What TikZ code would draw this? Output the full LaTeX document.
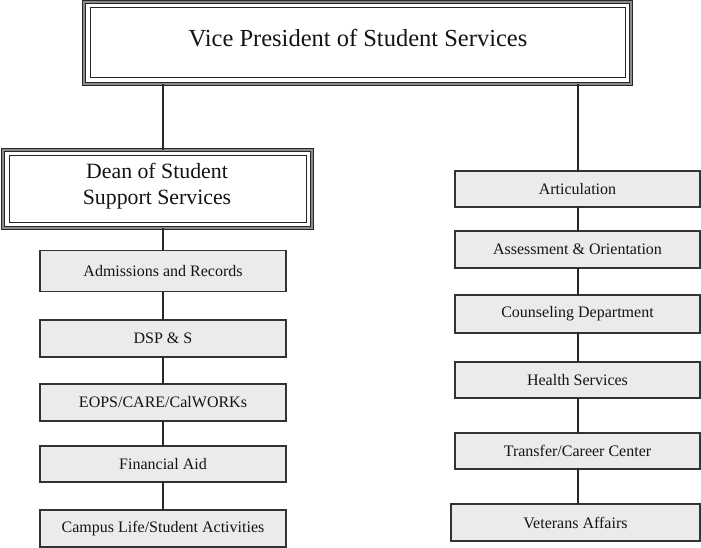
\documentclass[tikz,border=0pt]{standalone}
\usepackage{fontspec}
\setmainfont{Liberation Serif}
\begin{document}
\begin{tikzpicture}[x=1pt,y=-1pt,
  headbox/.style={draw=black!85, double=black!45, line width=1.2pt, double distance=1.2pt,
    fill=white, inner sep=0pt, outer sep=0pt, align=center, text=black!90},
  headtext/.style={inner sep=0pt, align=center, text=black!92},
  unitbox/.style={draw=black!80, line width=1.8pt, fill=black!8, inner sep=0pt, outer sep=0pt,
    font=\fontsize{16}{18}\selectfont, text=black!92},
  link/.style={draw=black!85, line width=2pt}
]
\useasboundingbox (0,0) rectangle (701,548);
% head boxes
\node[headbox, minimum width=547, minimum height=82] (vp) at (357.5,43) {};
\draw[black!85, line width=1pt] ([shift={(6,6)}]vp.north west) rectangle ([shift={(-6,-6)}]vp.south east);
\node[headtext, font=\fontsize{24.5}{26}\selectfont] (vpt) at (358,38) {Vice President of Student Services};
\node[headbox, minimum width=309, minimum height=78] (dean) at (157.5,189) {};
\draw[black!85, line width=1pt] ([shift={(6,6)}]dean.north west) rectangle ([shift={(-6,-6)}]dean.south east);
\node[headtext, font=\fontsize{21.8}{25.5}\selectfont] (deant) at (157,186) {Dean of Student\\Support Services};
% left column
\node[unitbox, minimum width=246, minimum height=41] (adm) at (163,271) {Admissions and Records};
\node[unitbox, minimum width=246, minimum height=37] (dsp) at (163,338.5) {DSP \& S};
\node[unitbox, minimum width=246, minimum height=37] (eops) at (163,402.5) {EOPS/CARE/CalWORKs};
\node[unitbox, minimum width=246, minimum height=36] (fin) at (163,464) {Financial Aid};
\node[unitbox, minimum width=246, minimum height=37] (camp) at (163,528.5) {Campus Life/Student Activities};
% right column
\node[unitbox, minimum width=245, minimum height=36] (art) at (577.5,189) {Articulation};
\node[unitbox, minimum width=245, minimum height=37] (ass) at (577.5,249.5) {Assessment \& Orientation};
\node[unitbox, minimum width=245, minimum height=38] (cou) at (577.5,314) {Counseling Department};
\node[unitbox, minimum width=245, minimum height=36] (hea) at (577.5,380) {Health Services};
\node[unitbox, minimum width=245, minimum height=36] (tra) at (577.5,451) {Transfer/Career Center};
\node[unitbox, minimum width=249, minimum height=37] (vet) at (575.5,522.5) {Veterans Affairs};
% connectors
\draw[link] (vp.south -| adm.north) -- (dean.north -| adm.north);
\draw[link] (vp.south -| art.north) -- (art.north);
\draw[link] (dean.south -| adm.north) -- (adm.north);
\draw[link] (adm) -- (dsp);
\draw[link] (dsp) -- (eops);
\draw[link] (eops) -- (fin);
\draw[link] (fin) -- (camp);
\draw[link] (art) -- (ass);
\draw[link] (ass) -- (cou);
\draw[link] (cou) -- (hea);
\draw[link] (hea) -- (tra);
\draw[link] (tra.south) -- (tra.south |- vet.north);
\end{tikzpicture}
\end{document}
